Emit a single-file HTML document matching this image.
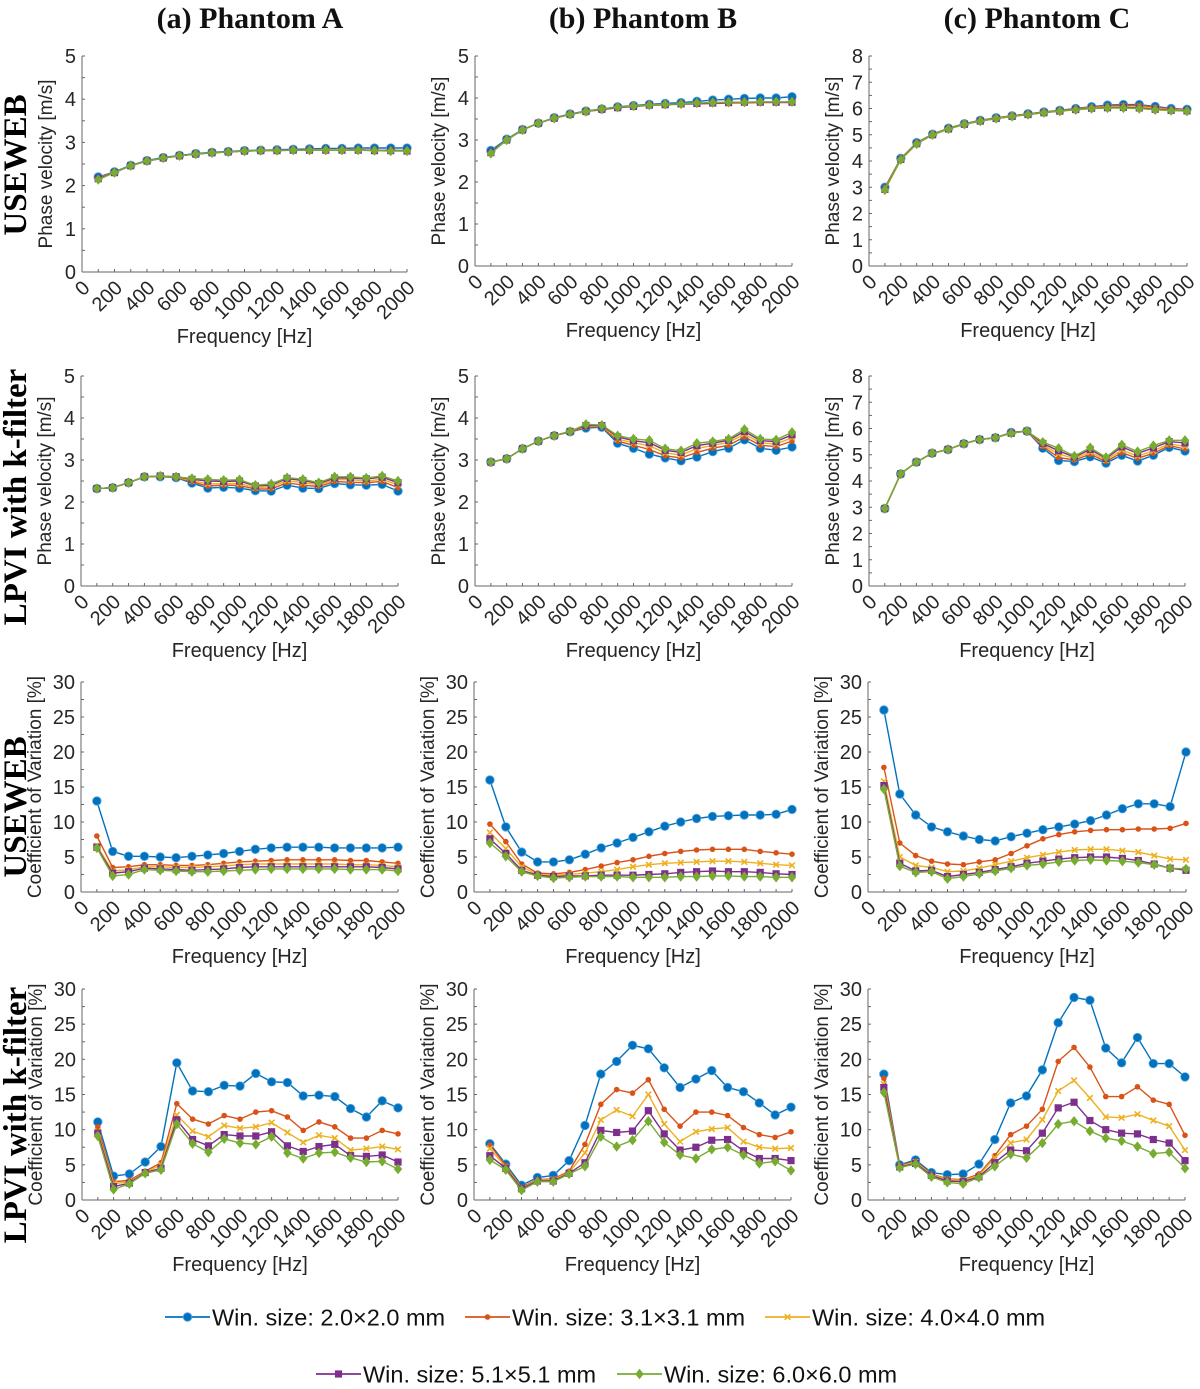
<!DOCTYPE html>
<html><head><meta charset="utf-8"><style>
html,body{margin:0;padding:0;background:#fff;}
svg{display:block;}
</style></head><body>
<svg id="fig" width="1200" height="1389" viewBox="0 0 1200 1389" xmlns="http://www.w3.org/2000/svg" font-family="Liberation Sans, sans-serif">
<g font-family="Liberation Serif, serif" font-weight="bold" font-size="30" fill="#111" text-anchor="middle">
<text x="250" y="28">(a) Phantom A</text>
<text x="643" y="28">(b) Phantom B</text>
<text x="1037" y="28">(c) Phantom C</text>
</g>
<g font-family="Liberation Serif, serif" font-weight="900" font-size="33" fill="#000" text-anchor="middle">
<text transform="translate(26,165) rotate(-90)">USEWEB</text>
<text transform="translate(26,497) rotate(-90)">LPVI with k-filter</text>
<text transform="translate(26,807) rotate(-90)">USEWEB</text>
<text transform="translate(26,1115) rotate(-90)">LPVI with k-filter</text>
</g>
<g id="plots"></g>
<g id="legend"></g>
</svg>
<script>
const freqs=[100,200,300,400,500,600,700,800,900,1000,1100,1200,1300,1400,1500,1600,1700,1800,1900,2000];
const xTicks=[0,200,400,600,800,1000,1200,1400,1600,1800,2000];
const seriesNames=["Win. size: 2.0×2.0 mm","Win. size: 3.1×3.1 mm","Win. size: 4.0×4.0 mm","Win. size: 5.1×5.1 mm","Win. size: 6.0×6.0 mm"];
// Row 1 USEWEB velocity
const r1aBlue=[2.2,2.32,2.47,2.58,2.65,2.7,2.74,2.77,2.79,2.81,2.82,2.83,2.84,2.85,2.86,2.86,2.87,2.87,2.87,2.87];
const r1aRed=[2.18,2.31,2.46,2.57,2.64,2.69,2.73,2.76,2.78,2.8,2.81,2.82,2.82,2.83,2.83,2.83,2.83,2.82,2.82,2.81];
const r1aYellow=[2.17,2.31,2.46,2.57,2.64,2.69,2.73,2.76,2.78,2.8,2.81,2.82,2.82,2.82,2.83,2.83,2.82,2.82,2.81,2.8];
const r1aPurple=[2.16,2.3,2.46,2.57,2.64,2.69,2.73,2.76,2.78,2.8,2.81,2.81,2.82,2.82,2.82,2.82,2.82,2.81,2.81,2.8];
const r1aGreen=[2.14,2.3,2.46,2.57,2.64,2.69,2.73,2.76,2.78,2.8,2.81,2.81,2.82,2.82,2.82,2.82,2.82,2.81,2.8,2.8];
const r1bBlue=[2.75,3.02,3.25,3.4,3.53,3.62,3.69,3.74,3.79,3.82,3.85,3.87,3.89,3.92,3.95,3.97,3.99,4.0,4.0,4.03];
const r1bRed=[2.72,3.0,3.24,3.4,3.52,3.61,3.68,3.72,3.77,3.8,3.82,3.84,3.85,3.86,3.87,3.88,3.88,3.89,3.89,3.89];
const r1bYellow=[2.71,3.0,3.24,3.4,3.52,3.61,3.68,3.73,3.77,3.8,3.82,3.84,3.86,3.87,3.88,3.89,3.89,3.9,3.9,3.9];
const r1bPurple=[2.7,3.0,3.24,3.4,3.52,3.61,3.68,3.73,3.77,3.8,3.83,3.84,3.86,3.87,3.88,3.89,3.9,3.9,3.9,3.9];
const r1bGreen=[2.68,3.0,3.24,3.4,3.52,3.61,3.68,3.74,3.78,3.81,3.83,3.85,3.86,3.88,3.89,3.9,3.9,3.91,3.91,3.91];
const r1cBlue=[3.0,4.1,4.7,5.02,5.25,5.42,5.55,5.65,5.72,5.8,5.87,5.93,6.0,6.07,6.13,6.15,6.15,6.08,6.0,5.97];
const r1cRed=[2.98,4.09,4.69,5.01,5.24,5.41,5.54,5.64,5.72,5.79,5.86,5.92,5.99,6.05,6.1,6.12,6.12,6.05,5.98,5.95];
const r1cYellow=[2.95,4.08,4.68,5.01,5.23,5.41,5.53,5.63,5.71,5.78,5.85,5.91,5.97,6.03,6.06,6.07,6.06,6.0,5.95,5.93];
const r1cPurple=[2.92,4.06,4.66,5.0,5.22,5.4,5.52,5.62,5.7,5.77,5.84,5.9,5.96,6.01,6.03,6.04,6.02,5.97,5.93,5.91];
const r1cGreen=[2.9,4.05,4.65,5.0,5.22,5.4,5.52,5.62,5.7,5.77,5.84,5.9,5.95,6.0,6.02,6.02,6.0,5.95,5.92,5.9];
// Row 2 LPVI velocity
const r2aBlue=[2.32,2.34,2.46,2.6,2.6,2.58,2.45,2.33,2.35,2.33,2.27,2.26,2.4,2.33,2.32,2.44,2.41,2.4,2.42,2.26];
const r2aRed=[2.32,2.34,2.46,2.6,2.61,2.59,2.48,2.38,2.4,2.39,2.31,2.31,2.46,2.4,2.37,2.49,2.47,2.46,2.49,2.34];
const r2aYellow=[2.32,2.34,2.46,2.6,2.61,2.59,2.51,2.43,2.44,2.44,2.34,2.36,2.51,2.46,2.41,2.53,2.53,2.5,2.54,2.41];
const r2aPurple=[2.32,2.34,2.46,2.6,2.62,2.6,2.54,2.5,2.49,2.5,2.38,2.4,2.56,2.51,2.44,2.57,2.57,2.55,2.59,2.46];
const r2aGreen=[2.32,2.34,2.46,2.6,2.62,2.6,2.56,2.54,2.52,2.53,2.4,2.43,2.58,2.54,2.46,2.6,2.6,2.57,2.62,2.5];
const r2bBlue=[2.95,3.03,3.27,3.45,3.58,3.67,3.76,3.78,3.4,3.28,3.14,3.05,2.98,3.07,3.2,3.28,3.48,3.28,3.23,3.31];
const r2bRed=[2.95,3.03,3.27,3.45,3.58,3.67,3.78,3.8,3.45,3.35,3.25,3.1,3.05,3.18,3.28,3.35,3.55,3.35,3.32,3.45];
const r2bYellow=[2.95,3.03,3.27,3.45,3.58,3.68,3.8,3.81,3.5,3.41,3.34,3.17,3.12,3.27,3.35,3.42,3.62,3.41,3.38,3.53];
const r2bPurple=[2.95,3.03,3.27,3.45,3.58,3.68,3.82,3.82,3.55,3.46,3.41,3.23,3.18,3.34,3.4,3.47,3.68,3.46,3.44,3.6];
const r2bGreen=[2.95,3.03,3.27,3.45,3.58,3.68,3.85,3.83,3.58,3.5,3.47,3.27,3.22,3.4,3.44,3.5,3.73,3.5,3.48,3.66];
const r2cBlue=[2.95,4.27,4.72,5.06,5.2,5.42,5.58,5.65,5.85,5.9,5.25,4.78,4.74,4.92,4.68,4.98,4.76,4.98,5.28,5.14];
const r2cRed=[2.95,4.27,4.72,5.06,5.2,5.42,5.58,5.65,5.84,5.9,5.31,4.9,4.8,5.02,4.74,5.08,4.86,5.06,5.35,5.22];
const r2cYellow=[2.95,4.27,4.72,5.06,5.2,5.42,5.58,5.65,5.83,5.9,5.37,5.03,4.86,5.1,4.8,5.18,4.95,5.15,5.42,5.32];
const r2cPurple=[2.95,4.27,4.72,5.06,5.2,5.42,5.58,5.65,5.82,5.9,5.43,5.15,4.91,5.2,4.86,5.3,5.05,5.26,5.5,5.45];
const r2cGreen=[2.95,4.27,4.72,5.06,5.2,5.42,5.58,5.65,5.82,5.9,5.48,5.25,4.95,5.27,4.9,5.38,5.12,5.35,5.55,5.55];
// Row 3 USEWEB CV
const r3aBlue=[13,5.8,5.1,5.1,5.0,4.9,5.1,5.3,5.5,5.8,6.1,6.3,6.4,6.4,6.4,6.3,6.3,6.3,6.3,6.4];
const r3aRed=[8,3.5,3.6,3.9,3.9,3.8,3.8,3.9,4.1,4.3,4.4,4.5,4.6,4.6,4.6,4.6,4.5,4.5,4.3,4.1];
const r3aYellow=[6.6,3.0,3.2,3.6,3.6,3.5,3.5,3.6,3.7,3.9,4.0,4.0,4.0,4.0,4.0,4.0,3.9,3.9,3.8,3.6];
const r3aPurple=[6.4,2.7,2.9,3.4,3.3,3.2,3.1,3.2,3.3,3.5,3.6,3.6,3.6,3.6,3.6,3.6,3.6,3.6,3.5,3.3];
const r3aGreen=[6.3,2.3,2.5,3.2,3.1,3.0,2.9,2.9,3.0,3.1,3.2,3.3,3.3,3.3,3.3,3.3,3.2,3.2,3.2,3.0];
const r3bBlue=[16,9.3,5.7,4.3,4.3,4.6,5.4,6.3,7.0,7.8,8.6,9.4,10.0,10.5,10.8,10.9,11.0,11.0,11.1,11.8];
const r3bRed=[9.7,7.2,4.0,2.7,2.6,2.8,3.2,3.7,4.2,4.6,5.1,5.5,5.8,6.0,6.1,6.1,6.1,5.8,5.6,5.4];
const r3bYellow=[8.5,6.2,3.6,2.5,2.4,2.5,2.7,2.9,3.2,3.6,3.9,4.1,4.2,4.3,4.4,4.4,4.3,4.1,3.9,3.8];
const r3bPurple=[7.6,5.5,3.1,2.4,2.2,2.3,2.3,2.4,2.4,2.4,2.5,2.6,2.8,2.9,3.0,2.9,2.9,2.8,2.6,2.5];
const r3bGreen=[7.0,5.1,2.9,2.3,2.0,2.1,2.2,2.2,2.2,2.1,2.1,2.1,2.2,2.2,2.3,2.3,2.2,2.2,2.1,2.1];
const r3cBlue=[26,14,11,9.3,8.6,8.0,7.5,7.3,7.9,8.4,8.9,9.3,9.7,10.2,11.0,11.9,12.6,12.6,12.2,20];
const r3cRed=[17.8,7.0,5.2,4.4,4.0,3.9,4.3,4.6,5.5,6.6,7.6,8.2,8.6,8.8,8.9,8.9,9.0,9.0,9.1,9.8];
const r3cYellow=[15.8,5.0,3.8,3.5,2.9,3.0,3.4,3.9,4.4,4.9,5.3,5.7,6.0,6.1,6.1,5.9,5.7,5.2,4.7,4.6];
const r3cPurple=[15.2,4.1,3.0,3.1,2.2,2.5,2.8,3.2,3.6,4.1,4.4,4.7,4.9,5.0,5.0,4.8,4.5,4.0,3.4,3.1];
const r3cGreen=[14.7,3.7,2.8,2.9,1.9,2.2,2.6,3.0,3.4,3.8,4.0,4.3,4.5,4.6,4.5,4.4,4.2,3.9,3.4,3.3];
// Row 4 LPVI CV
const r4aBlue=[11.1,3.4,3.7,5.4,7.6,19.5,15.5,15.4,16.3,16.2,18.0,16.8,16.7,14.8,14.9,14.7,13.0,11.8,14.1,13.1];
const r4aRed=[10.4,2.6,2.8,4.1,5.3,13.7,11.5,10.8,12.0,11.5,12.5,12.7,11.8,9.9,11.1,10.4,8.8,8.8,9.9,9.4];
const r4aYellow=[9.8,2.3,2.6,3.9,5.0,12.1,9.8,9.0,10.6,10.2,10.4,11.0,9.6,8.2,9.2,8.8,7.1,7.3,7.6,7.2];
const r4aPurple=[9.5,1.9,2.4,3.9,4.5,11.4,8.6,7.7,9.3,9.1,9.1,9.7,7.7,6.9,7.6,7.9,6.3,6.2,6.4,5.4];
const r4aGreen=[9.1,1.5,2.3,3.8,4.3,10.8,8.0,6.8,8.7,8.1,7.9,9.0,6.7,5.9,6.7,6.8,6.0,5.4,5.5,4.4];
const r4bBlue=[8.0,5.1,2.1,3.2,3.5,5.6,10.6,17.9,19.7,22.0,21.5,18.8,16.0,17.2,18.4,16.0,15.4,13.8,12.1,13.2];
const r4bRed=[7.8,4.9,1.8,2.9,3.0,4.1,7.9,13.6,15.7,15.2,17.1,12.9,10.5,12.5,12.5,12.0,10.3,9.3,8.9,9.7];
const r4bYellow=[7.3,4.7,1.7,2.8,2.9,3.9,6.7,11.4,12.8,11.9,15.0,10.8,8.3,9.7,10.1,10.3,8.3,7.5,7.3,7.4];
const r4bPurple=[6.3,4.5,1.6,2.7,2.7,3.8,5.3,9.9,9.6,9.8,12.7,9.4,7.1,7.5,8.5,8.6,7.0,5.9,5.9,5.6];
const r4bGreen=[5.7,4.3,1.4,2.6,2.6,3.7,4.8,9.0,7.6,8.5,11.2,8.2,6.4,5.9,7.2,7.5,6.4,5.2,5.5,4.2];
const r4cBlue=[17.9,5.0,5.7,3.9,3.6,3.7,5.1,8.6,13.8,14.8,18.5,25.2,28.8,28.4,21.6,19.5,23.1,19.4,19.4,17.5];
const r4cRed=[17.3,4.9,5.5,3.7,3.0,2.9,3.7,6.3,9.3,10.5,12.9,19.7,21.7,18.9,14.7,14.7,16.1,14.2,13.6,9.2];
const r4cYellow=[16.5,4.8,5.4,3.6,2.9,2.8,3.5,6.0,8.1,8.6,11.4,15.5,17.0,14.5,11.8,11.7,12.2,11.3,10.5,7.1];
const r4cPurple=[16.0,4.7,5.2,3.5,2.7,2.6,3.3,5.3,7.1,7.0,9.5,13.1,13.9,11.3,10.0,9.5,9.4,8.6,8.1,5.6];
const r4cGreen=[15.3,4.6,5.1,3.3,2.5,2.3,3.2,4.8,6.5,6.0,8.1,10.8,11.2,9.8,8.8,8.4,7.6,6.6,6.8,4.5];
const yTicksV5=[0,1,2,3,4,5];
const yTicksV8=[0,1,2,3,4,5,6,7,8];
const yTicksCV=[0,5,10,15,20,25,30];

const NS="http://www.w3.org/2000/svg";
const colors=["#0072BD","#D95319","#EDB120","#7E2F8E","#77AC30"];
const markers=["circle","dot","x","square","diamond"];
function mk(tag,attrs,parent){const e=document.createElementNS(NS,tag);for(const k in attrs)e.setAttribute(k,attrs[k]);if(parent)parent.appendChild(e);return e;}
function drawMarker(g,type,x,y,c){
  let m;
  if(type==="circle"){m=mk("circle",{cx:x,cy:y,r:4.3,fill:c,stroke:"#5aa5e0","stroke-width":0.8},g);}
  else if(type==="dot"){m=mk("circle",{cx:x,cy:y,r:2.8,fill:c},g);}
  else if(type==="x"){m=mk("path",{d:`M${x-2.8},${y-2.8}L${x+2.8},${y+2.8}M${x-2.8},${y+2.8}L${x+2.8},${y-2.8}`,stroke:c,"stroke-width":1.6,fill:"none"},g);}
  else if(type==="square"){m=mk("rect",{x:x-3.6,y:y-3.6,width:7.2,height:7.2,fill:c},g);}
  else {m=mk("path",{d:`M${x},${y-5.2}L${x+4.2},${y}L${x},${y+5.2}L${x-4.2},${y}Z`,fill:c},g);}
  
  
}
const panels=[
 {id:"r1a",x0:82,x1:407,yt:56,yb:272,ymax:5,ticks:yTicksV5,minor:0.5,lo:30,label:"Phase velocity [m/s]",data:[r1aBlue,r1aRed,r1aYellow,r1aPurple,r1aGreen]},
 {id:"r1b",x0:475,x1:792,yt:56,yb:266,ymax:5,ticks:yTicksV5,minor:0.5,lo:30,label:"Phase velocity [m/s]",data:[r1bBlue,r1bRed,r1bYellow,r1bPurple,r1bGreen]},
 {id:"r1c",x0:869,x1:1187,yt:56,yb:266,ymax:8,ticks:yTicksV8,minor:0.5,lo:30,label:"Phase velocity [m/s]",data:[r1cBlue,r1cRed,r1cYellow,r1cPurple,r1cGreen]},
 {id:"r2a",x0:81,x1:398,yt:376,yb:586,ymax:5,ticks:yTicksV5,minor:0.5,lo:30,label:"Phase velocity [m/s]",data:[r2aBlue,r2aRed,r2aYellow,r2aPurple,r2aGreen]},
 {id:"r2b",x0:475,x1:792,yt:376,yb:586,ymax:5,ticks:yTicksV5,minor:0.5,lo:30,label:"Phase velocity [m/s]",data:[r2bBlue,r2bRed,r2bYellow,r2bPurple,r2bGreen]},
 {id:"r2c",x0:869,x1:1185,yt:376,yb:586,ymax:8,ticks:yTicksV8,minor:0.5,lo:30,label:"Phase velocity [m/s]",data:[r2cBlue,r2cRed,r2cYellow,r2cPurple,r2cGreen]},
 {id:"r3a",x0:81,x1:398,yt:682,yb:892,ymax:30,ticks:yTicksCV,minor:2.5,lo:40,label:"Coefficient of Variation [%]",data:[r3aBlue,r3aRed,r3aYellow,r3aPurple,r3aGreen]},
 {id:"r3b",x0:474,x1:792,yt:682,yb:892,ymax:30,ticks:yTicksCV,minor:2.5,lo:40,label:"Coefficient of Variation [%]",data:[r3bBlue,r3bRed,r3bYellow,r3bPurple,r3bGreen]},
 {id:"r3c",x0:868,x1:1186,yt:682,yb:892,ymax:30,ticks:yTicksCV,minor:2.5,lo:40,label:"Coefficient of Variation [%]",data:[r3cBlue,r3cRed,r3cYellow,r3cPurple,r3cGreen]},
 {id:"r4a",x0:82,x1:398,yt:989,yb:1200,ymax:30,ticks:yTicksCV,minor:2.5,lo:40,label:"Coefficient of Variation [%]",data:[r4aBlue,r4aRed,r4aYellow,r4aPurple,r4aGreen]},
 {id:"r4b",x0:474,x1:791,yt:989,yb:1200,ymax:30,ticks:yTicksCV,minor:2.5,lo:40,label:"Coefficient of Variation [%]",data:[r4bBlue,r4bRed,r4bYellow,r4bPurple,r4bGreen]},
 {id:"r4c",x0:868,x1:1185,yt:989,yb:1200,ymax:30,ticks:yTicksCV,minor:2.5,lo:40,label:"Coefficient of Variation [%]",data:[r4cBlue,r4cRed,r4cYellow,r4cPurple,r4cGreen]}
];
const root=document.getElementById("plots");
panels.forEach(p=>{
  const g=mk("g",{},root);
  
  
  const xs=v=>p.x0+(v/2000)*(p.x1-p.x0);
  const ys=v=>p.yb-(v/p.ymax)*(p.yb-p.yt);
  const ax="#666";
  const yAxis=mk("line",{x1:p.x0,y1:p.yt,x2:p.x0,y2:p.yb,stroke:ax,"stroke-width":1},g);
  
  
  const xAxis=mk("line",{x1:p.x0,y1:p.yb,x2:p.x1,y2:p.yb,stroke:ax,"stroke-width":1},g);
  
  
  for(let v=0;v<=p.ymax+1e-9;v+=p.minor){mk("line",{x1:p.x0,y1:ys(v),x2:p.x0+3,y2:ys(v),stroke:ax,"stroke-width":1},g);}
  for(let f=100;f<=2000;f+=100){mk("line",{x1:xs(f),y1:p.yb,x2:xs(f),y2:p.yb-3,stroke:ax,"stroke-width":1},g);}
  p.ticks.forEach(t=>{
    const tx=mk("text",{x:p.x0-6,y:ys(t)+7,"text-anchor":"end","font-size":20,fill:"#262626"},g);
    tx.textContent=t;
    
    
  });
  xTicks.forEach(t=>{
    const x=xs(t),y=p.yb+17;
    const tx=mk("text",{x:x+9,y:y,"text-anchor":"end","font-size":20,fill:"#262626",transform:`rotate(-45 ${x+9} ${y})`},g);
    tx.textContent=t;
    
    
  });
  const xl=mk("text",{x:(p.x0+p.x1)/2,y:p.yb+71,"text-anchor":"middle","font-size":20,fill:"#262626"},g);
  xl.textContent="Frequency [Hz]";
  
  
  const cx=p.x0-p.lo,cy=(p.yt+p.yb)/2;
  const yl=mk("text",{x:cx,y:cy,"text-anchor":"middle","font-size":19,fill:"#262626",transform:`rotate(-90 ${cx} ${cy})`},g);
  yl.textContent=p.label;
  
  
  p.data.forEach((arr,si)=>{
    const sg=mk("g",{},g);
    
    
    const pts=arr.map((v,i)=>xs(freqs[i]).toFixed(1)+","+ys(v).toFixed(1)).join(" ");
    const pl=mk("polyline",{points:pts,fill:"none",stroke:colors[si],"stroke-width":1.4},sg);
    
    
    arr.forEach((v,i)=>drawMarker(sg,markers[si],xs(freqs[i]),ys(v),colors[si]));
  });
});
// legend
const lg=document.getElementById("legend");
const legPos=[[165,1317],[465,1317],[765,1317],[316,1374],[617,1374]];
seriesNames.forEach((n,i)=>{
  const [lx,ly]=legPos[i];
  const e=mk("g",{},lg);
  
  
  mk("line",{x1:lx,y1:ly,x2:lx+45,y2:ly,stroke:colors[i],"stroke-width":1.8},e);
  drawMarker(e,markers[i],lx+22.5,ly,colors[i]);
  const t=mk("text",{x:lx+47,y:ly+8.5,"font-size":23.5,fill:"#111"},e);
  t.textContent=n;
  
  
});
</script>
</body></html>
